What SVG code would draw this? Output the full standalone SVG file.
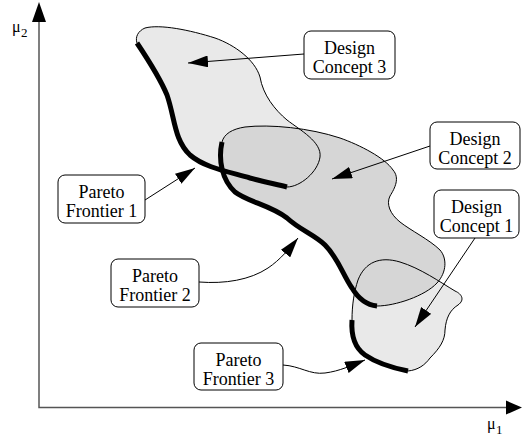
<svg xmlns="http://www.w3.org/2000/svg" width="522" height="440" viewBox="0 0 522 440">
<style>
.light{fill:#e9e9e9;stroke:none}
.dark{fill:#d6d6d6;stroke:none}
.outline{fill:none;stroke:#000;stroke-width:1}
.pareto{fill:none;stroke:#000;stroke-width:5;stroke-linecap:butt}
.call{fill:none;stroke:#000;stroke-width:1}
.box{fill:#fff;stroke:#000;stroke-width:1}
.lbl{font-family:"Liberation Serif","Times New Roman",serif;font-size:18px;fill:#000;text-anchor:middle}
.ax{font-family:"Liberation Serif","Times New Roman",serif;fill:#000}
.axis{stroke:#555;stroke-width:1.5;fill:none}
</style>
<defs>
<marker id="ah" markerUnits="userSpaceOnUse" markerWidth="20" markerHeight="12" refX="20" refY="6" orient="auto">
<path d="M0,0 L20,6 L0,12 Z" fill="#000"/>
</marker>
</defs>
<g id="regions">
<path id="concept3-fill" class="light" d="M137,43 C147,58 160,78 167,95 C175,118 174,140 190,155 C205,168 230,172 250,178 C265,182 275,184 287,187 C300,187 318,172 320,157 C322,142 300,130 287,120 C275,110 263,95 260,77 C255,60 235,45 215,38 C190,30 160,24 145,28 C138,31 135,37 137,43 Z"/>
<path id="concept1-fill" class="light" d="M352,320 C351,335 355,348 365,355 C378,364 393,368 408,371 C418,370 425,365 430,358 C440,348 445,340 445,330 C446,318 450,310 458,305 C465,300 462,294 455,291 C440,282 420,268 400,262 C380,256 365,262 358,280 C354,292 352,305 352,320 Z"/>
<path id="concept2-fill" class="dark" d="M222,142 C218,160 222,180 235,192 C248,202 270,205 287,218 C300,230 315,235 325,245 C338,258 343,275 352,288 C358,298 367,305 377,306 C395,306 425,296 437,283 C447,272 447,258 440,250 C430,240 410,230 400,222 C390,214 386,204 390,196 C395,188 400,178 393,170 C385,158 360,145 340,138 C310,128 270,124 245,127 C232,129 224,134 222,142 Z"/>
<path class="outline" d="M287,187 C300,187 318,172 320,157 C322,142 300,130 287,120 C275,110 263,95 260,77 C255,60 235,45 215,38 C190,30 160,24 145,28 C138,31 135,37 137,43"/>
<path class="outline" d="M408,371 C418,370 425,365 430,358 C440,348 445,340 445,330 C446,318 450,310 458,305 C465,300 462,294 455,291 C440,282 420,268 400,262 C380,256 365,262 358,280 C354,292 352,305 352,320"/>
<path class="outline" d="M377,306 C395,306 425,296 437,283 C447,272 447,258 440,250 C430,240 410,230 400,222 C390,214 386,204 390,196 C395,188 400,178 393,170 C385,158 360,145 340,138 C310,128 270,124 245,127 C232,129 224,134 222,142"/>
<path id="pareto1" class="pareto" d="M137,43 C147,58 160,78 167,95 C175,118 174,140 190,155 C205,168 230,172 250,178 C265,182 275,184 287,187"/>
<path id="pareto2" class="pareto" d="M222,142 C218,160 222,180 235,192 C248,202 270,205 287,218 C300,230 315,235 325,245 C338,258 343,275 352,288 C358,298 367,305 377,306"/>
<path id="pareto3" class="pareto" d="M352,320 C351,335 355,348 365,355 C378,364 393,368 408,371"/>
</g>
<g id="connectors">
<path class="call" d="M304,54 L188,63" marker-end="url(#ah)"/>
<path class="call" d="M430,146 L332,179" marker-end="url(#ah)"/>
<path class="call" d="M475,238 L415,327" marker-end="url(#ah)"/>
<path class="call" d="M145,200 L195,168" marker-end="url(#ah)"/>
<path class="call" d="M199,282 C225,284 250,280 268,268 C280,260 290,248 298,238" marker-end="url(#ah)"/>
<path class="call" d="M283,365 C300,366 310,375 325,373 C340,371 350,366 365,360" marker-end="url(#ah)"/>
</g>
<g id="axes">
<path class="axis" d="M39,20 L39,407.5 L506,407.5"/>
<polygon points="39,2 46,22 32,22" fill="#000"/>
<polygon points="522,407.5 506,400.5 506,414.5" fill="#000"/>
<text class="ax" x="12" y="32" font-size="16">μ</text>
<text class="ax" x="21" y="37" font-size="13">2</text>
<text class="ax" x="487" y="429" font-size="16">μ</text>
<text class="ax" x="496" y="434" font-size="13">1</text>
</g>
<g id="design-concept-3">
<rect class="box" x="304" y="31" width="91" height="48" rx="7"/>
<text class="lbl" x="349.5" y="54">Design</text>
<text class="lbl" x="349.5" y="73">Concept 3</text>
</g>
<g id="design-concept-2">
<rect class="box" x="430" y="122" width="90" height="47" rx="7"/>
<text class="lbl" x="475" y="145">Design</text>
<text class="lbl" x="475" y="164">Concept 2</text>
</g>
<g id="design-concept-1">
<rect class="box" x="434" y="190" width="85" height="48" rx="7"/>
<text class="lbl" x="476.5" y="213">Design</text>
<text class="lbl" x="476.5" y="232">Concept 1</text>
</g>
<g id="pareto-frontier-1">
<rect class="box" x="58" y="175" width="87" height="48" rx="7"/>
<text class="lbl" x="101.5" y="198">Pareto</text>
<text class="lbl" x="101.5" y="217">Frontier 1</text>
</g>
<g id="pareto-frontier-2">
<rect class="box" x="111" y="259" width="88" height="48" rx="7"/>
<text class="lbl" x="155" y="282">Pareto</text>
<text class="lbl" x="155" y="301">Frontier 2</text>
</g>
<g id="pareto-frontier-3">
<rect class="box" x="194" y="343" width="89" height="47" rx="7"/>
<text class="lbl" x="238.5" y="366">Pareto</text>
<text class="lbl" x="238.5" y="385">Frontier 3</text>
</g>
</svg>
